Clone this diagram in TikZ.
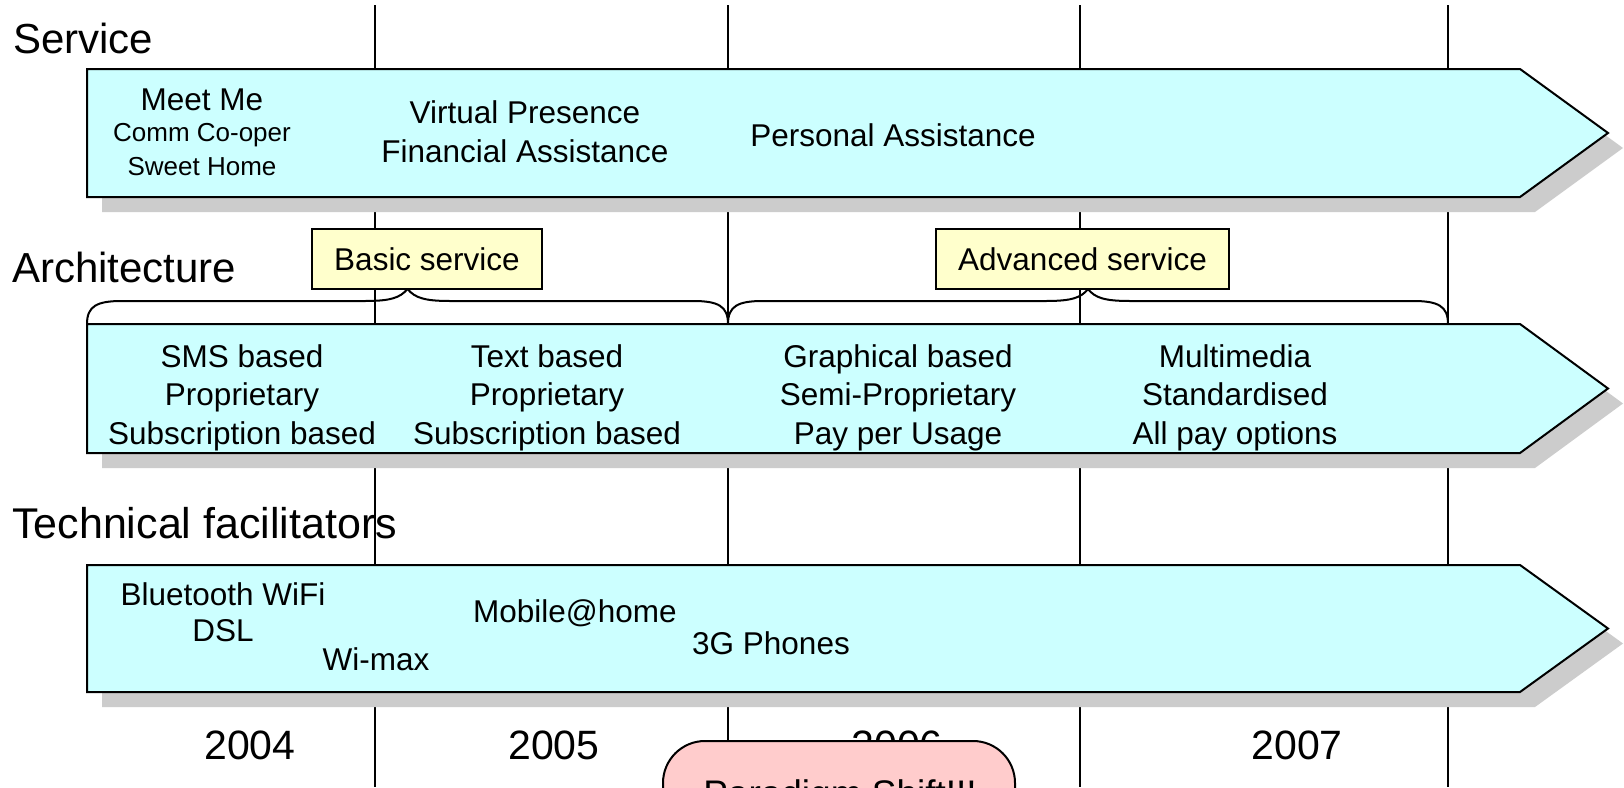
\documentclass[tikz,border=0pt]{standalone}
\usepackage{fontspec}
\setmainfont{Liberation Sans}
\definecolor{barfill}{HTML}{CCFFFF}
\definecolor{shad}{HTML}{CCCCCC}
\definecolor{yel}{HTML}{FFFFCC}
\definecolor{pinkbox}{HTML}{FFCCCC}
\newcommand\fsz[2]{\fontsize{#1}{#2}\selectfont}
\tikzset{
  bar/.style={draw=black, line width=2pt, fill=barfill, line join=miter},
  shadowbar/.style={fill=shad, draw=none},
  vline/.style={line width=1.8pt},
  lbl/.style={anchor=base west, inner sep=0pt, font=\fsz{42}{50}},
  txt/.style={anchor=base, inner sep=0pt, font=\fsz{31.5}{38}},
  smalltxt/.style={anchor=base, inner sep=0pt, font=\fsz{26}{31}},
  yr/.style={anchor=base, inner sep=0pt, font=\fsz{41}{49}},
  tagbox/.style={draw=black, line width=2pt, fill=yel},
  bracepath/.style={line width=2pt},
}
\begin{document}
\begin{tikzpicture}[x=1pt,y=-1pt]
\useasboundingbox (0,0) rectangle (1624,787);
\clip (0,0) rectangle (1624,787);
\fill[white] (0,0) rectangle (1624,787);

% vertical year separators
\foreach \x/\n in {375/a,728/b,1080/c,1448/d}{
  \coordinate (top\n) at (\x,5);
  \coordinate (bot\n) at (\x,787);
  \draw[vline] (top\n) -- (bot\n);
}

% row labels
\node[lbl] (lservice) at (13,53) {Service};
\node[lbl] (larch) at (12,282) {Architecture};
\node[lbl, font=\fsz{43}{51}] (ltech) at (12,538) {Technical facilitators};

% Service bar
\fill[shadowbar] (102,84) -- (1535,84) -- (1623,148) -- (1535,212) -- (102,212) -- cycle;
\draw[bar] (87,69) -- (1520,69) -- (1608,133) -- (1520,197) -- (87,197) -- cycle;
\node[txt] (meet) at (202,110) {Meet Me};
\node[smalltxt] (comm) at (202,141) {Comm Co-oper};
\node[smalltxt] (sweet) at (202,175) {Sweet Home};
\node[txt] (virt) at (525,123) {Virtual Presence};
\node[txt] (fin) at (525,162) {Financial Assistance};
\node[txt] (pers) at (893,146) {Personal Assistance};

% Architecture bar
\fill[shadowbar] (102,339) -- (1535,339) -- (1623,403.5) -- (1535,468) -- (102,468) -- cycle;
\draw[bar] (87,324) -- (1520,324) -- (1608,388.5) -- (1520,453) -- (87,453) -- cycle;
\node[txt] (a11) at (242,367) {SMS based};
\node[txt] (a12) at (242,405.5) {Proprietary};
\node[txt] (a13) at (242,444) {Subscription based};
\node[txt] (a21) at (547,367) {Text based};
\node[txt] (a22) at (547,405.5) {Proprietary};
\node[txt] (a23) at (547,444) {Subscription based};
\node[txt] (a31) at (898,367) {Graphical based};
\node[txt] (a32) at (898,405.5) {Semi-Proprietary};
\node[txt] (a33) at (898,444) {Pay per Usage};
\node[txt] (a41) at (1235,367) {Multimedia};
\node[txt] (a42) at (1235,405.5) {Standardised};
\node[txt] (a43) at (1235,444) {All pay options};

% braces
\draw[bracepath] (87,324) .. controls (87,306) and (97,301) .. (122,301)
  -- (365,301) .. controls (390,301) and (400,298) .. (407.5,289)
  .. controls (415,298) and (425,301) .. (450,301)
  -- (693,301) .. controls (718,301) and (728,306) .. (728,324);
\draw[bracepath] (728,324) .. controls (728,306) and (738,301) .. (763,301)
  -- (1046,301) .. controls (1071,301) and (1081,298) .. (1088,289)
  .. controls (1095,298) and (1105,301) .. (1130,301)
  -- (1413,301) .. controls (1438,301) and (1448,306) .. (1448,324);

% tags
\draw[tagbox] (312,229) rectangle (542,289);
\node[txt] (basic) at (427,270) {Basic service};
\draw[tagbox] (936,229) rectangle (1229,289);
\node[txt] (adv) at (1082.5,270) {Advanced service};

% Technical bar
\fill[shadowbar] (102,580) -- (1535,580) -- (1623,643.5) -- (1535,707) -- (102,707) -- cycle;
\draw[bar] (87,565) -- (1520,565) -- (1608,628.5) -- (1520,692) -- (87,692) -- cycle;
\node[txt] (bt) at (223,605) {Bluetooth WiFi};
\node[txt] (dsl) at (223,641) {DSL};
\node[txt] (wimax) at (376,670) {Wi-max};
\node[txt] (mob) at (575,622.5) {Mobile@home};
\node[txt] (g3) at (771,654.5) {3G Phones};

% years
\node[yr] (y4) at (250,759) {2004};
\node[yr] (y5) at (554,759) {2005};
\node[yr] (y6) at (897,759) {2006};
\node[yr] (y7) at (1297,759) {2007};

% paradigm shift box
\draw[line width=2pt, fill=pinkbox, rounded corners=42pt] (663,741) rectangle (1015,880);
\node[yr, font=\fsz{37}{44}] (para) at (840,806) {Paradigm Shift!!!};
\end{tikzpicture}
\end{document}
